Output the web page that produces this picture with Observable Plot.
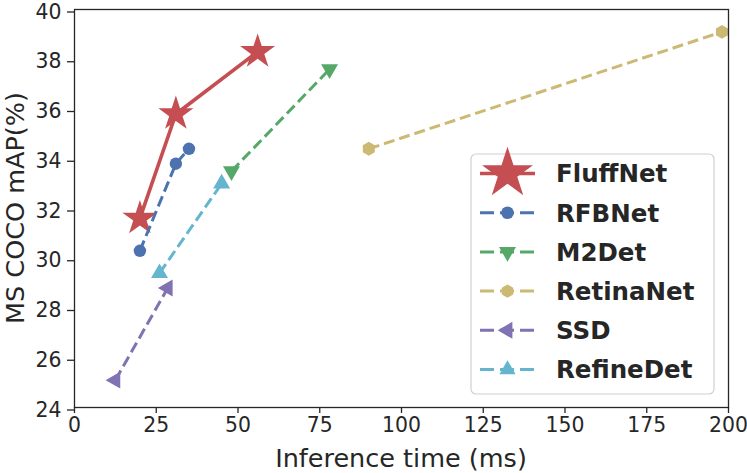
<!DOCTYPE html>
<html>
<head>
<meta charset="utf-8">
<script src="https://cdn.jsdelivr.net/npm/d3@7"></script>
<script src="https://cdn.jsdelivr.net/npm/@observablehq/plot@0.6"></script>
<style>
  html, body { margin: 0; padding: 0; background: #fff; }
  #chart svg { display: block; }
</style>
</head>
<body>
<div id="chart"></div>
<script>
// ---- data ----
const seriesNames = ["FluffNet", "RFBNet", "M2Det", "RetinaNet", "SSD", "RefineDet"];
const seriesColors = ["#C44E52", "#4C72B0", "#55A868", "#CCB974", "#8172B2", "#64B5CD"];

const fluffNetTime = [20, 31, 56];
const fluffNetMap = [31.6, 35.8, 38.3];
const rfbNetTime = [20, 31, 35];
const rfbNetMap = [30.3, 33.8, 34.4];
const m2DetTime = [48, 78];
const m2DetMap = [33.5, 37.6];
const retinaNetTime = [90, 198];
const retinaNetMap = [34.4, 39.1];
const ssdTime = [12.5, 28.5];
const ssdMap = [25.1, 28.8];
const refineDetTime = [26, 45];
const refineDetMap = [29.4, 33.0];

const xTicks = [0, 25, 50, 75, 100, 125, 150, 175, 200];
const yTicks = [24, 26, 28, 30, 32, 34, 36, 38, 40];

// ---- custom symbols ----
function triSymbol(angle) {
  return {
    draw(context, size) {
      const y = -Math.sqrt(size / (Math.sqrt(3) * 3));
      const pts = [[0, y * 2], [-Math.sqrt(3) * y, -y], [Math.sqrt(3) * y, -y]];
      const c = Math.cos(angle), s = Math.sin(angle);
      pts.forEach(([px, py], i) => {
        const rx = px * c - py * s, ry = px * s + py * c;
        if (i === 0) context.moveTo(rx, ry); else context.lineTo(rx, ry);
      });
      context.closePath();
    }
  };
}
const hexSymbol = {
  draw(context, size) {
    const r = Math.sqrt(size / (1.5 * Math.sqrt(3)));
    for (let k = 0; k < 6; k++) {
      const a = Math.PI / 3 * k - Math.PI / 2;
      if (k === 0) context.moveTo(r * Math.cos(a), r * Math.sin(a));
      else context.lineTo(r * Math.cos(a), r * Math.sin(a));
    }
    context.closePath();
  }
};
const triUp = triSymbol(0);
const triDown = triSymbol(Math.PI);
const triLeft = triSymbol(-Math.PI / 2);

const seriesSymbols = [d3.symbolStar, d3.symbolCircle, triDown, hexSymbol, triLeft, triUp];
const seriesR = [11, 6.2, 6.3, 6.3, 6.3, 6.3];

const times = [fluffNetTime, rfbNetTime, m2DetTime, retinaNetTime, ssdTime, refineDetTime];
const maps = [fluffNetMap, rfbNetMap, m2DetMap, retinaNetMap, ssdMap, refineDetMap];

const table = seriesNames.map((name, i) =>
  times[i].map((t, j) => ({ name, idx: i, time: t, map: maps[i][j] }))
);

const marks = [];
table.forEach((rows, i) => {
  marks.push(Plot.line(rows, {
    x: "time", y: "map",
    stroke: seriesColors[i],
    strokeWidth: i === 0 ? 3.6 : 3,
    strokeDasharray: i === 0 ? null : "11,5",
    strokeLinecap: "butt"
  }));
  marks.push(Plot.dot(rows, {
    x: "time", y: "map",
    symbol: () => seriesSymbols[i],
    r: seriesR[i],
    fill: seriesColors[i],
    stroke: "none"
  }));
});

const W = 747, H = 473;
const plot = Plot.plot({
  width: W, height: H,
  marginLeft: 74, marginRight: 19, marginTop: 9, marginBottom: 66,
  style: { fontFamily: "DejaVu Sans", background: "#fff", color: "#262626" },
  x: { domain: [0, 200] },
  y: { domain: [24, 40] },
  symbol: { type: "identity" },
  marks: [
    ...marks,
    Plot.frame({ stroke: "#262626", strokeWidth: 1.3 }),
    Plot.axisX({ ticks: xTicks, tickSize: 6, tickPadding: 4, fontSize: 20.4, stroke: "#262626", strokeWidth: 1.3, label: null, tickFormat: d => String(d) }),
    Plot.axisY({ ticks: yTicks, tickSize: 7, tickPadding: 6, fontSize: 20.4, dy: 2.5, stroke: "#262626", strokeWidth: 1.3, label: null, tickFormat: d => String(d) })
  ]
});
document.getElementById("chart").appendChild(plot);

// ---- axis labels & legend ----
const svg = d3.select(plot);
svg.append("text")
  .attr("x", (74 + 728) / 2).attr("y", 466.5)
  .attr("text-anchor", "middle")
  .attr("font-size", 25.5).attr("fill", "#262626")
  .text("Inference time (ms)");
svg.append("text")
  .attr("transform", `translate(24,${(9 + 407) / 2}) rotate(-90)`)
  .attr("text-anchor", "middle")
  .attr("font-size", 25.5).attr("fill", "#262626")
  .text("MS COCO mAP(%)");

const lg = svg.append("g").attr("text-anchor", "start");
lg.append("rect")
  .attr("x", 471).attr("y", 154).attr("width", 243).attr("height", 240)
  .attr("rx", 5).attr("fill", "#fff").attr("fill-opacity", 0.8)
  .attr("stroke", "#d0d0d0").attr("stroke-width", 1.2);
const legendR = [16, 6.3, 6.3, 6, 6.3, 6];
seriesNames.forEach((name, i) => {
  const yy = 173.5 + i * 39.2;
  lg.append("line")
    .attr("x1", 480).attr("x2", 535).attr("y1", yy).attr("y2", yy)
    .attr("stroke", seriesColors[i])
    .attr("stroke-width", i === 0 ? 3.6 : 3)
    .attr("stroke-dasharray", i === 0 ? null : "14,6");
  lg.append("path")
    .attr("d", d3.symbol(seriesSymbols[i], Math.PI * legendR[i] * legendR[i])())
    .attr("transform", `translate(507.5,${yy})`)
    .attr("fill", seriesColors[i]);
  lg.append("text")
    .attr("x", 556).attr("y", yy).attr("dy", "0.36em")
    .attr("text-anchor", "start")
    .attr("font-size", 24.5).attr("font-weight", "bold").attr("fill", "#262626")
    .text(name);
});
</script>
</body>
</html>
